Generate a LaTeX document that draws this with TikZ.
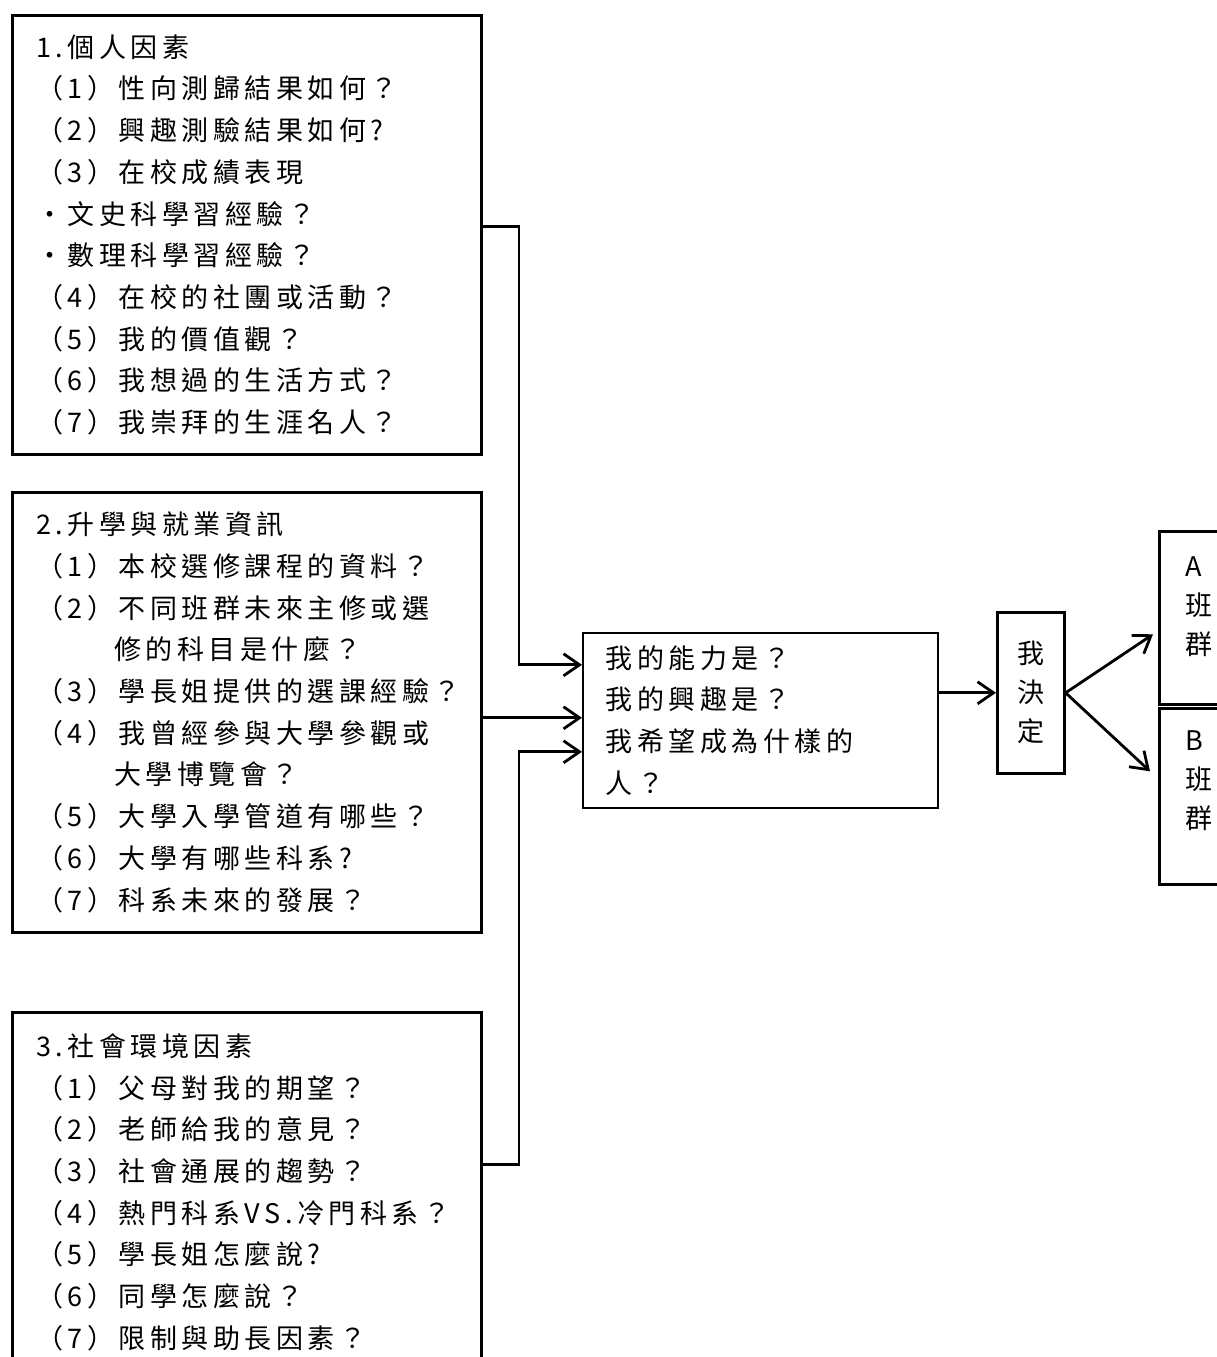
\documentclass[tikz,border=0pt]{standalone}
\usepackage{fontspec}
\setmainfont{Noto Sans CJK TC}
\newfontfamily\cjkspaced[LetterSpace=16.7]{Noto Sans CJK TC}
\newcommand{\listfont}{\cjkspaced\fontsize{27pt}{41.7pt}\selectfont}
\newcommand{\stackfont}{\fontsize{27pt}{39pt}\selectfont}
\usetikzlibrary{arrows.meta,positioning}

\begin{document}
\begin{tikzpicture}[x=1pt,y=-1pt]

        \useasboundingbox (0,0) rectangle (1217,1357);
        \clip (0,0) rectangle (1217,1357);

        \begin{scope}[every node/.style={draw, line width=2.6pt, anchor=north west, align=left,
            font=\listfont, text width=421pt, inner xsep=24pt}]
          \node[minimum height=439pt] (f1) at (11,14) {1.個人因素\\（1）性向測歸結果如何？\\（2）興趣測驗結果如何?\\（3）在校成績表現\\‧文史科學習經驗？\\‧數理科學習經驗？\\（4）在校的社團或活動？\\（5）我的價值觀？\\（6）我想過的生活方式？\\（7）我崇拜的生涯名人？};
          \node[minimum height=440pt] (f2) at (11,491) {2.升學與就業資訊\\（1）本校選修課程的資料？\\（2）不同班群未來主修或選\\\phantom{（2）}修的科目是什麼？\\（3）學長姐提供的選課經驗？\\（4）我曾經參與大學參觀或\\\phantom{（4）}大學博覽會？\\（5）大學入學管道有哪些？\\（6）大學有哪些科系?\\（7）科系未來的發展？};
          \node[minimum height=360pt] (f3) at (11,1011) {3.社會環境因素\\（1）父母對我的期望？\\（2）老師給我的意見？\\（3）社會通展的趨勢？\\（4）熱門科系VS.冷門科系？\\（5）學長姐怎麼說?\\（6）同學怎麼說？\\（7）限制與助長因素？};
        \end{scope}

        \node[draw, line width=1.6pt, anchor=north west, align=left, font=\listfont,
          text width=309pt, inner xsep=23pt, minimum height=175pt] (m) at (582,632)
          {我的能力是？\\我的興趣是？\\我希望成為什樣的\\人？};

        \begin{scope}[every node/.style={draw, line width=2.6pt, anchor=north west, align=center,
            font=\stackfont, inner sep=0pt}]
          \node[minimum width=67pt, minimum height=161pt] (d) at (996,611) {我\\決\\定};
          \node[minimum width=80pt, minimum height=173pt,
            label={[draw=none, anchor=north, align=left, yshift=-25pt]north:A\\班\\群}] (ga) at (1158,530) {};
          \node[minimum width=80pt, minimum height=176pt,
            label={[draw=none, anchor=north, align=left, yshift=-22pt]north:B\\班\\群}] (gb) at (1158,707) {};
        \end{scope}

        \coordinate (rail) at (519,0);
        \coordinate (in1) at ([yshift=55.5pt]m.west);
        \coordinate (in2) at ([yshift=2.5pt]m.west);
        \coordinate (in3) at ([yshift=-31.5pt]m.west);

        \begin{scope}[line width=2.8pt, -{Straight Barb[length=16pt,width=22pt]}]
          \draw ([yshift=8.5pt]f1.east) -| (rail |- in1) -- (in1);
          \path (f2.east |- in2) edge (in2);
          \draw ([yshift=28pt]f3.east) -| (rail |- in3) -- (in3);
          \path (m.east |- d.west) edge (d.west);
          \path (d.east) edge ([xshift=-5pt,yshift=-16.5pt]ga.west);
          \path (d.east) edge ([xshift=-8pt,yshift=25pt]gb.west);
        \end{scope}

\end{tikzpicture}
\end{document}
